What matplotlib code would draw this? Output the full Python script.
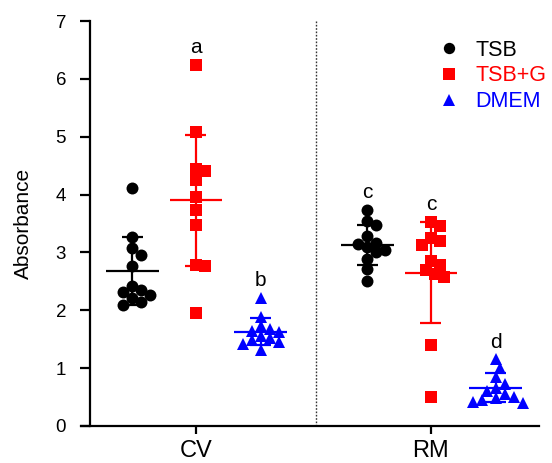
import numpy as np
import matplotlib
matplotlib.use("Agg")
import matplotlib.pyplot as plt
from matplotlib.lines import Line2D

plt.rcParams['font.family'] = ['Liberation Sans', 'DejaVu Sans']

# ---------------- data ----------------
categories = ["CV", "RM"]
series = ["TSB", "TSB+G", "DMEM"]

cv_tsb = [4.12, 3.27, 3.08, 2.95, 2.76, 2.42, 2.35, 2.31, 2.27, 2.22, 2.15, 2.10]
cv_tsbg = [6.24, 5.08, 4.44, 4.40, 4.26, 3.95, 3.73, 3.48, 2.78, 2.76, 1.95]
cv_dmem = [2.21, 1.88, 1.72, 1.68, 1.65, 1.62, 1.55, 1.52, 1.48, 1.45, 1.42, 1.32]

rm_tsb = [3.74, 3.54, 3.48, 3.28, 3.17, 3.15, 3.05, 3.00, 2.88, 2.71, 2.51, 3.10]
rm_tsbg = [3.52, 3.45, 3.25, 3.20, 3.12, 2.85, 2.78, 2.70, 2.62, 2.58, 1.40, 0.50]
rm_dmem = [1.15, 1.00, 0.85, 0.72, 0.65, 0.60, 0.55, 0.50, 0.48, 0.45, 0.42, 0.40]

# mean and SD as shown by the error bars
cv_means = [2.68, 3.90, 1.63]
cv_sds = [0.58, 1.13, 0.23]
rm_means = [3.13, 2.65, 0.66]
rm_sds = [0.35, 0.87, 0.25]

cv_letters = ["", "a", "b"]
rm_letters = ["c", "c", "d"]

y_ticks = [0, 1, 2, 3, 4, 5, 6, 7]
y_label = "Absorbance"

# ---------------- style ----------------
colors = ["#000000", "#ff0000", "#0000ff"]
markers = ["o", "s", "^"]
msize = 8.6
offsets = [-0.27, 0.0, 0.275]

W, H = 552, 463
fig = plt.figure(figsize=(W / 100, H / 100), dpi=100)
ax_l, ax_r, ax_b, ax_t = 81, 539, 426, 21
ax = fig.add_axes([ax_l / W, 1 - ax_b / H, (ax_r - ax_l) / W, (ax_b - ax_t) / H])
xmin, xmax = -0.489, 1.46
ymin, ymax = 0, 7
ax.set_xlim(xmin, xmax)
ax.set_ylim(ymin, ymax)
xscale = (ax_r - ax_l) / (xmax - xmin)   # px per data unit
yscale = (ax_b - ax_t) / (ymax - ymin)


def swarm(vals, center, diam=9.0):
    vals = np.asarray(vals, float)
    order = np.argsort(vals)[::-1]
    placed = []
    xs = np.zeros(len(vals))
    step = diam * 0.5
    cands = [0.0]
    for k in range(1, 14):
        cands += [k * step, -k * step]
    for i in order:
        yp = vals[i] * yscale
        chosen = cands[-1]
        for off in cands:
            if all(np.hypot(off - px, yp - py) >= diam for px, py in placed):
                chosen = off
                break
        placed.append((chosen, yp))
        xs[i] = center + chosen / xscale
    return xs


groups = [
    (0, [cv_tsb, cv_tsbg, cv_dmem], cv_means, cv_sds, cv_letters),
    (1, [rm_tsb, rm_tsbg, rm_dmem], rm_means, rm_sds, rm_letters),
]

lw = 1.6
mean_hw = 0.112
cap_hw = 0.045
for cpos, data, means, sds, letters in groups:
    for j in range(3):
        c = cpos + offsets[j]
        vals = data[j]
        xs = swarm(vals, c)
        ax.plot(xs, vals, linestyle="none", marker=markers[j], color=colors[j],
                markersize=msize if markers[j] != "^" else msize * 1.05,
                markeredgewidth=0, clip_on=False, zorder=3)
        m, s = means[j], sds[j]
        ax.plot([c - mean_hw, c + mean_hw], [m, m], color=colors[j], lw=lw, zorder=4,
                solid_capstyle="butt")
        ax.plot([c, c], [m - s, m + s], color=colors[j], lw=lw, zorder=4,
                solid_capstyle="butt")
        for e in (m - s, m + s):
            ax.plot([c - cap_hw, c + cap_hw], [e, e], color=colors[j], lw=lw, zorder=4,
                    solid_capstyle="butt")
        if letters[j]:
            ax.text(c, max(vals) + 0.3, letters[j], ha="center", va="center",
                    fontsize=15, color="black")

# divider
ax.plot([0.509, 0.509], [0, 7], linestyle=(0, (1.2, 1.2)), color="#333333", lw=1.0,
        zorder=1)

# axes styling
for sp in ["top", "right"]:
    ax.spines[sp].set_visible(False)
ax.spines["left"].set_position(("data", xmin + 9 / xscale))
ax.spines["left"].set_linewidth(1.6)
ax.spines["bottom"].set_linewidth(1.6)
ax.set_yticks(y_ticks)
ax.set_yticklabels([str(t) for t in y_ticks])
ax.set_xticks([0, 1])
ax.set_xticklabels(categories)
ax.tick_params(axis="y", direction="out", length=7.2, width=1.6, labelsize=13.5, pad=10)
ax.tick_params(axis="x", direction="out", length=6, width=1.6, labelsize=17, pad=4)
ax.set_ylabel(y_label, fontsize=15)
ax.yaxis.set_label_coords(-0.104, 0.5)

# legend
handles = [Line2D([], [], linestyle="none", marker=markers[j], color=colors[j],
                  markersize=msize * 0.95, markeredgewidth=0) for j in range(3)]
leg = ax.legend(handles, series, loc="upper right", bbox_to_anchor=(1.035, 0.975),
                frameon=False, fontsize=15.5, handletextpad=0.75, labelspacing=0.22,
                handlelength=1.0, borderaxespad=0)
for t, col in zip(leg.get_texts(), colors):
    t.set_color(col)

fig.savefig("out.png", dpi=100)
